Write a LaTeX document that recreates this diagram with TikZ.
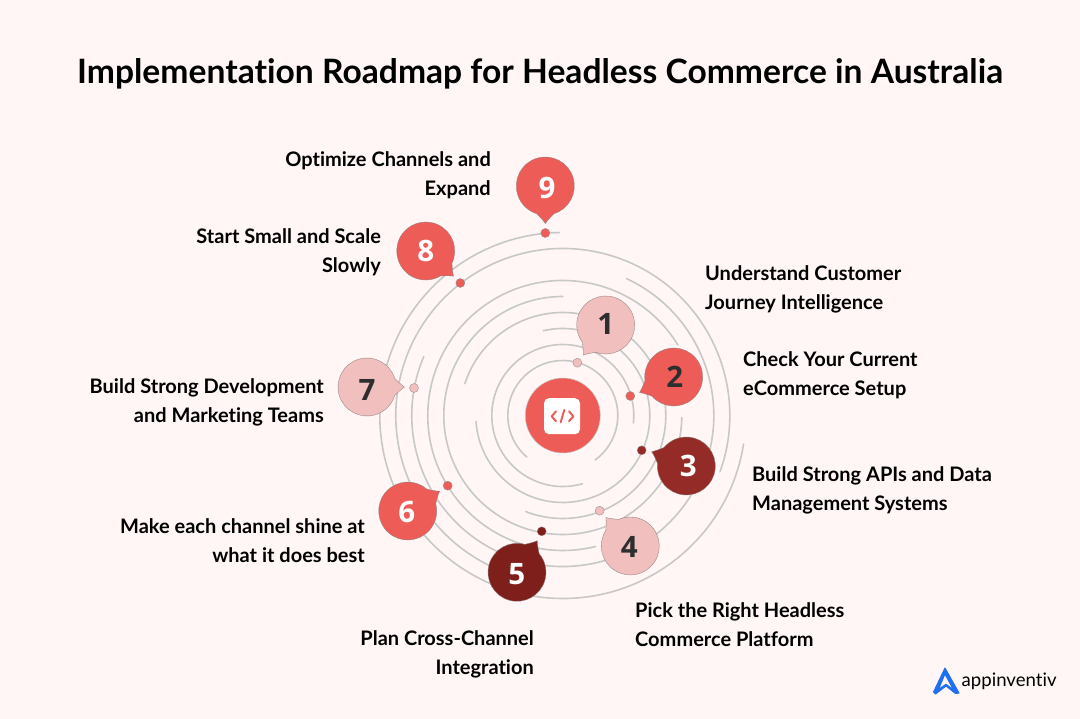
\documentclass[tikz,border=0pt]{standalone}
\usepackage{fontspec}
\setmainfont[Ligatures=NoCommon]{Lato}
\newfontfamily\numfont{Open Sans}
\usetikzlibrary{calc}
\definecolor{bgc}{HTML}{FFF6F5}
\definecolor{redc}{HTML}{EE5C58}
\definecolor{pinkc}{HTML}{F0BFBE}
\definecolor{darkA}{HTML}{952B27}
\definecolor{darkB}{HTML}{7F1F1C}
\definecolor{ringc}{HTML}{C8C8C6}
\definecolor{edgec}{HTML}{8F8484}
\definecolor{numdark}{HTML}{2E2E2E}
\definecolor{blueL}{HTML}{1F6FF2}
\tikzset{
  ring/.style={draw=ringc,line width=1.6pt,line cap=round},
  bubbleshape/.style={draw=edgec,line width=0.35pt},
  dotmark/.style={circle,draw=edgec,line width=0.3pt,minimum size=9pt,inner sep=0pt},
  numlabel/.style={font=\numfont\fontsize{29.5}{29.5}\selectfont\bfseries,inner sep=0pt},
  lab/.style={font=\fontsize{20}{29}\selectfont\bfseries,text=black,inner sep=0pt},
  labl/.style={lab,align=left,anchor=west},
  labr/.style={lab,align=right,anchor=east},
}
% #1 name, #2 x, #3 y, #4 tail angle, #5 fill
\newcommand{\speech}[5]{%
  \coordinate (#1c) at (#2,-#3);
  \pgfmathsetmacro{\aS}{#4+17}
  \draw[bubbleshape,fill=#5,line join=miter] ($(#1c)+(\aS:29)$) arc[start angle=\aS,delta angle=326,radius=29]
    .. controls ($(#1c)+(#4-11:31)$) and ($(#1c)+(#4-4:34)$) .. ($(#1c)+(#4:37.5)$)
    .. controls ($(#1c)+(#4+4:34)$) and ($(#1c)+(#4+11:31)$) .. cycle;
}
\begin{document}
\begin{tikzpicture}[x=1pt,y=1pt]
\useasboundingbox (0,0) rectangle (1080,-719);
\fill[bgc] (0,0) rectangle (1080,-719);
\node[font=\fontsize{33.6}{34}\selectfont\bfseries,inner sep=0pt,anchor=base] (title) at (540,-83.5) {Implementation Roadmap for Headless Commerce in Australia};
\coordinate (C) at (562.8,-415.5);
% rings: radius, start, end
\foreach \r/\s/\e in {55/229/-54,71/286/-6,87/103/-176,103/162/-111,119/90/359,135/31.5/284,151/65/-203,167/-19.7/250,183/91/351}{
  \draw[ring] ($(C)+(\s:\r)$) arc[start angle=\s,end angle=\e,radius=\r];
}
% centre
\node[circle,fill=redc,draw=ringc,line width=0.5pt,minimum size=75pt,inner sep=0pt] (hub) at (C) {};
\node[fill=white,rounded corners=5pt,minimum size=36pt,inner sep=0pt] (icon) at (562,-416.2) {};
\draw[redc,line width=2pt,line cap=round,line join=round] (556,-411.3)--(551.7,-416.3)--(556,-421.3);
\draw[redc,line width=2pt,line cap=round,line join=round] (569,-411.3)--(573.3,-416.3)--(569,-421.3);
\draw[redc,line width=2pt,line cap=round] (564.3,-410)--(560.7,-422.3);
% dots
\node[dotmark,fill=pinkc] (d1) at (577.3,-362.7) {};
\node[dotmark,fill=redc] (d2) at (630.3,-396) {};
\node[dotmark,fill=darkA] (d3) at (641.7,-450.3) {};
\node[dotmark,fill=pinkc] (d4) at (599.7,-510.7) {};
\node[dotmark,fill=darkB] (d5) at (541.7,-531.3) {};
\node[dotmark,fill=redc] (d6) at (447.7,-485.7) {};
\node[dotmark,fill=pinkc] (d7) at (414,-388) {};
\node[dotmark,fill=redc] (d8) at (460.3,-283) {};
\node[dotmark,fill=redc] (d9) at (545.3,-233) {};
% bubbles
\speech{b1}{605.7}{325}{233.3}{pinkc}
\speech{b2}{673.7}{377}{204.4}{redc}
\speech{b3}{686.3}{466}{157.5}{darkA}
\speech{b4}{630.3}{546}{130.6}{pinkc}
\speech{b5}{517}{572.3}{57.3}{darkB}
\speech{b6}{407.7}{511}{31.8}{redc}
\speech{b7}{367}{387}{0}{pinkc}
\speech{b8}{425.7}{251}{-42.2}{redc}
\speech{b9}{545.3}{186}{-90}{redc}
% numbers
\node[numlabel,text=numdark] (n1) at (605.7,-323.5) {1};
\node[numlabel,text=numdark] (n2) at (674.7,-376.7) {2};
\node[numlabel,text=white] (n3) at (688.3,-466) {3};
\node[numlabel,text=numdark] (n4) at (629.3,-546.7) {4};
\node[numlabel,text=white] (n5) at (516.7,-574) {5};
\node[numlabel,text=white] (n6) at (406.7,-512.3) {6};
\node[numlabel,text=numdark] (n7) at (367,-390) {7};
\node[numlabel,text=white] (n8) at (425.7,-251) {8};
\node[numlabel,text=white] (n9) at (547,-187.7) {9};
% labels
\node[labr] (t9) at (491,-175) {Optimize Channels and\\Expand};
\node[labr] (t8) at (381,-252) {Start Small and Scale\\Slowly};
\node[labl] (t1) at (705,-289) {Understand Customer\\Journey Intelligence};
\node[labl] (t2) at (743,-375) {Check Your Current\\eCommerce Setup};
\node[labr] (t7) at (324,-402) {Build Strong Development\\and Marketing Teams};
\node[labl] (t3) at (752,-490) {Build Strong APIs and Data\\Management Systems};
\node[labr] (t6) at (365,-541) {Make each channel shine at\\what it does best};
\node[labl] (t4) at (635,-625) {Pick the Right Headless\\Commerce Platform};
\node[labr] (t5) at (534,-654) {Plan Cross-Channel\\Integration};
% logo
\fill[blueL,line join=round,draw=blueL,line width=1pt] (945,-668) -- (959,-693) -- (955.5,-693.5) -- (946,-686) -- (935.5,-694) -- (933.5,-692) -- cycle;
\fill[bgc] (945,-675.5) -- (951.5,-687.5) -- (946,-683.5) -- (940,-687.5) -- cycle;
\node[font=\fontsize{18.6}{19}\selectfont,anchor=base west,inner sep=0pt] (logo) at (961.5,-686) {appinventiv};
\end{tikzpicture}
\end{document}
